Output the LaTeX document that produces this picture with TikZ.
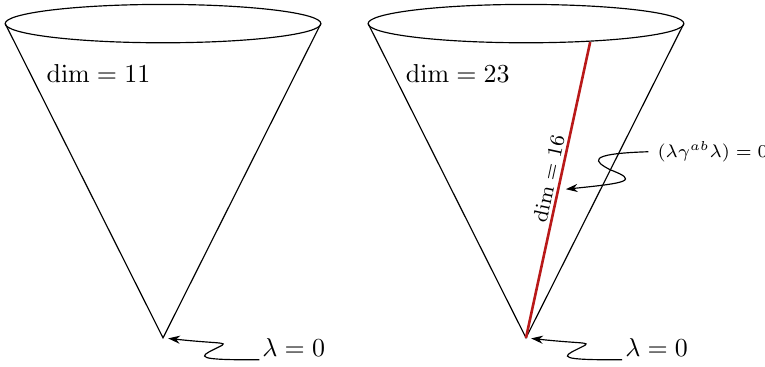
\documentclass[tikz,border=0pt]{standalone}
\usepackage{xcolor}
\usepackage{tikz}
\usetikzlibrary{arrows.meta}

\definecolor{conered}{RGB}{185,25,25}

\begin{document}
\begin{tikzpicture}[
  cone/.style={draw=black,line width=0.45pt},
  ray/.style={draw=conered,line width=1pt},
  wiggle/.style={-{Stealth[length=1.6mm,width=1.1mm]},draw=black,line width=0.45pt},
  dimlabel/.style={font=\normalsize},
  lamlabel/.style={font=\normalsize,inner sep=1pt,anchor=base west},
  eqlabel/.style={font=\scriptsize,anchor=west}]
\useasboundingbox (0,0) rectangle (10.37,4.97);
\coordinate (topL) at (2.21,4.65);
\coordinate (apexL) at (2.21,0.39);
\coordinate (topR) at (7.13,4.65);
\coordinate (apexR) at (7.13,0.39);
% left cone
\draw[cone] (topL) ellipse [x radius=2.14, y radius=0.26];
\draw[cone] (0.07,4.65) -- (apexL) -- (4.35,4.65);
\node[dimlabel] (dimL) at (1.335,3.97) {$\dim = 11$};
% right cone
\draw[cone] (topR) ellipse [x radius=2.14, y radius=0.26];
\draw[cone] (4.99,4.65) -- (apexR) -- (9.27,4.65);
\node[dimlabel] (dimR) at (6.206,3.97) {$\dim = 23$};
\coordinate (rayend) at (8.00,4.40);
\draw[ray] (apexR) -- coordinate[pos=0.5] (raymid)
  node[pos=0.53,sloped,above,inner sep=1.2pt,font=\footnotesize] (dimray) {$\dim = 16$} (rayend);
% labels and pointers
\node[lamlabel] (lamL) at (3.515,0.136) {$\lambda = 0$};
\node[lamlabel] (lamR) at (8.434,0.136) {$\lambda = 0$};
\node[eqlabel] (eq) at (8.79,2.913) {$(\lambda\gamma^{ab}\lambda) = 0$};
\draw[wiggle,shorten >=2pt] (lamL.south west)
  .. controls +(-0.881,-0.007) and +(-0.190,-0.095) .. ++(-0.623,0.136)
  .. controls +(0.244,0.122) and +(0.881,-0.095) .. (apexL);
\draw[wiggle,shorten >=2pt] (lamR.south west)
  .. controls +(-0.881,-0.007) and +(-0.190,-0.095) .. ++(-0.623,0.136)
  .. controls +(0.244,0.122) and +(0.881,-0.095) .. (apexR);
\draw[wiggle,shorten >=3pt] (eq.west)
  .. controls +(-0.880,-0.027) and +(-0.203,0.108) .. ++(-0.520,-0.244)
  .. controls +(0.393,-0.149) and +(0.943,0.095) .. (raymid);
\end{tikzpicture}
\end{document}
